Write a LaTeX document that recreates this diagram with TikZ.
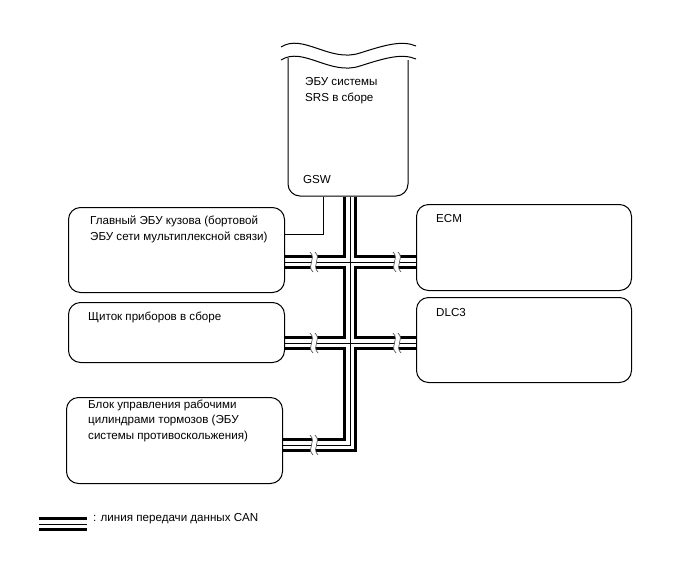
\documentclass[tikz,border=0pt]{standalone}
\usepackage{fontspec}
\setmainfont{Liberation Sans}
\pgfdeclarelayer{background}
\pgfsetlayers{background,main}
\newcommand\busdraw[1]{%
  \draw[#1] (srsbot) -- (corner3) -- (b3.east |- corner3);
  \draw[#1] (b1.east |- j1) -- (ecm.west |- j1);
  \draw[#1] (b2.east |- j2) -- (dlc.west |- j2);
}
\newcommand\brkmark{%
  \fill[white] (-3,-10) .. controls (4,-3) and (-7,3) .. (0,10) -- (5,10) .. controls (-2,3) and (9,-3) .. (2,-10) -- cycle;
  \draw[gray!70!black, line width=0.7pt] (-3,-10) .. controls (4,-3) and (-7,3) .. (0,10);
  \draw[gray!70!black, line width=0.7pt] (2,-10) .. controls (9,-3) and (-2,3) .. (5,10);
}
\begin{document}
\begin{tikzpicture}[x=1pt,y=-1pt,
  box/.style={draw, line width=1pt, rounded corners=12pt, anchor=north west, inner sep=0pt},
  lbl/.style={font=\fontsize{11.6}{15.7}\selectfont, align=left, anchor=north west, inner sep=0pt},
  busouter/.style={line width=14pt, black, line join=miter},
  businner/.style={line width=8pt, white, line join=miter},
  buscore/.style={line width=1pt, black, line join=miter}]
\useasboundingbox (0,0) rectangle (688,560);

% SRS ECU (cut-away top)
\draw[line width=1pt, fill=white, rounded corners=12pt]
  (288,58) -- (288,196) -- (408,196) -- (408,60);
\fill[white] (281,47) .. controls (303,33) and (330,63) .. (360,53) .. controls (385,45) and (402,40) .. (416,46)
  -- (416,59) .. controls (402,53) and (385,58) .. (360,66) .. controls (330,76) and (303,46) .. (281,60) -- cycle;
\draw[line width=1pt] (281,47) .. controls (303,33) and (330,63) .. (360,53) .. controls (385,45) and (402,40) .. (416,46);
\draw[line width=1pt] (281,60) .. controls (303,46) and (330,76) .. (360,66) .. controls (385,58) and (402,53) .. (416,59);
\node[lbl] (srslbl) at (305,77.5) {ЭБУ системы\\SRS в сборе};
\node[lbl] (gsw) at (303,175.5) {GSW};
\coordinate (srsbot) at (350,196.5);
\coordinate (gswtop) at (323,196.5);

% boxes
\node[box, minimum width=216pt, minimum height=85pt] (b1) at (68,207) {};
\node[box, minimum width=216pt, minimum height=60pt] (b2) at (68,302) {};
\node[box, minimum width=216pt, minimum height=86pt] (b3) at (66,397) {};
\node[box, minimum width=215pt, minimum height=86pt] (ecm) at (416,204) {};
\node[box, minimum width=215pt, minimum height=85pt] (dlc) at (416,297) {};

\node[lbl] (t1) at (90,215.5) {Главный ЭБУ кузова (бортовой\\ЭБУ сети мультиплексной связи)};
\node[lbl] (t2) at (88,311.5) {Щиток приборов в сборе};
\node[lbl] (t3) at (88,399.5) {Блок управления рабочими\\цилиндрами тормозов (ЭБУ\\системы противоскольжения)};
\node[lbl] (t4) at (436,214.5) {ECM};
\node[lbl] (t5) at (436,308.5) {DLC3};

% bus junction coordinates
\coordinate (j1) at (350,262);
\coordinate (j2) at (350,343);
\coordinate (corner3) at (350,445);

% GSW line
\draw[line width=1pt] (gswtop) -- (323,234) -- (b1.east |- 0,234);

\begin{pgfonlayer}{background}
  \busdraw{busouter}
  \busdraw{businner}
  \busdraw{buscore}
\end{pgfonlayer}

% break marks
\begin{scope}[shift={(313,262)}]\brkmark\end{scope}
\begin{scope}[shift={(313,343)}]\brkmark\end{scope}
\begin{scope}[shift={(313,445)}]\brkmark\end{scope}
\begin{scope}[shift={(396,262)}]\brkmark\end{scope}
\begin{scope}[shift={(396,343)}]\brkmark\end{scope}

% legend
\coordinate (lg1) at (39,524);
\coordinate (lg2) at (87,524);
\draw[busouter] (lg1) -- (lg2);
\draw[businner] (lg1) -- (lg2);
\draw[buscore] (lg1) -- (lg2);
\node[lbl] (lgt) at (93,513.5) {: линия передачи данных CAN};
\end{tikzpicture}
\end{document}
